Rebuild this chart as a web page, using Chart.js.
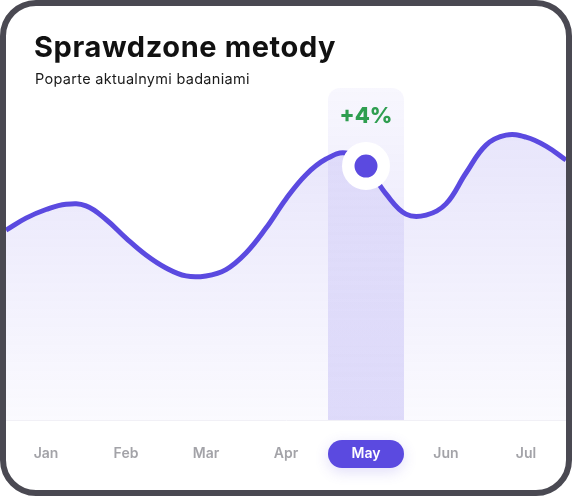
<!DOCTYPE html>
<html>
<head>
<meta charset="utf-8">
<script src="https://cdn.jsdelivr.net/npm/chart.js@4.4.1/dist/chart.umd.min.js"></script>
<style>
  html, body { margin: 0; padding: 0; background: #fff; }
  .card {
    position: relative; width: 572px; height: 496px; box-sizing: border-box;
    border: 6px solid #4a4952; border-radius: 36px; overflow: hidden; background: #fff;
    font-family: Inter, "Noto Sans", sans-serif;
  }
  .card h1 {
    position: absolute; left: 28px; top: 26px; margin: 0; z-index: 2;
    font-size: 29px; line-height: 1; font-weight: 700; color: #111; letter-spacing: 0.6px;
  }
  .card p {
    position: absolute; left: 29px; top: 66px; margin: 0; z-index: 2;
    font-size: 14.5px; line-height: 1; color: #1a1a1a; letter-spacing: 0.3px;
  }
  .chart-box { position: absolute; left: 0; top: 0; width: 560px; height: 484px; }
</style>
</head>
<body>
<div class="card">
  <h1>Sprawdzone metody</h1>
  <p>Poparte aktualnymi badaniami</p>
  <div class="chart-box"><canvas id="trendChart"></canvas></div>
</div>
<script>
// Tick labels
const monthLabels = ['Jan', 'Feb', 'Mar', 'Apr', 'May', 'Jun', 'Jul'];
// Curve every quarter month (x in months, 0 = Jan)
const curveX = [-0.5, -0.25, 0, 0.25, 0.5, 0.75, 1, 1.25, 1.5, 1.75, 2, 2.25, 2.5, 2.75,
                3, 3.25, 3.5, 3.75, 4, 4.25, 4.5, 4.75, 5, 5.25, 5.5, 5.75, 6, 6.25, 6.5];
const curveY = [57.2, 60.8, 63.4, 65.0, 64.5, 60.4, 54.8, 49.7, 45.8, 43.4, 43.4, 45.3, 50.3, 57.8,
                66.6, 73.9, 78.6, 80.4, 76.5, 68.1, 62.0, 61.7, 65.1, 74.4, 82.8, 85.8, 85.2, 82.5, 78.3];
// Highlighted month
const highlightIndex = 4;
const highlightText = '+4%';

const PURPLE = '#5b4ae0';
const GREEN = '#2f9e50';

const points = curveX.map((x, i) => ({ x: x, y: curveY[i] }));

const highlightPlugin = {
  id: 'highlight',
  beforeDraw(chart) {
    // pill behind the highlighted tick label
    const ctx = chart.ctx;
    const x = chart.scales.x.getPixelForTick(highlightIndex);
    const y = chart.chartArea.bottom + 34;
    ctx.save();
    ctx.shadowColor = 'rgba(91,74,224,0.18)';
    ctx.shadowBlur = 14;
    ctx.shadowOffsetY = 4;
    ctx.fillStyle = PURPLE;
    ctx.beginPath();
    ctx.roundRect(x - 38, y - 14, 76, 28, 14);
    ctx.fill();
    ctx.restore();
  },
  beforeDatasetsDraw(chart) {
    // vertical band for the highlighted month
    const { ctx, chartArea } = chart;
    const x = chart.scales.x.getPixelForTick(highlightIndex);
    const g = ctx.createLinearGradient(0, chartArea.top, 0, chartArea.bottom);
    g.addColorStop(0, 'rgba(108,92,231,0.05)');
    g.addColorStop(1, 'rgba(108,92,231,0.20)');
    ctx.save();
    ctx.fillStyle = g;
    ctx.beginPath();
    ctx.roundRect(x - 38, chartArea.top, 76, chartArea.bottom - chartArea.top, [12, 12, 0, 0]);
    ctx.fill();
    ctx.restore();
  },
  afterDatasetsDraw(chart) {
    const meta = chart.getDatasetMeta(0);
    const pt = meta.data[curveX.indexOf(highlightIndex)];
    const ctx = chart.ctx;
    ctx.save();
    ctx.fillStyle = GREEN;
    ctx.font = '800 22px Inter, sans-serif';
    ctx.textAlign = 'center';
    ctx.textBaseline = 'middle';
    ctx.fillText(highlightText, pt.x, pt.y - 50);
    ctx.restore();
  }
};

new Chart(document.getElementById('trendChart'), {
  type: 'line',
  data: {
    labels: monthLabels,
    datasets: [{
      data: points,
      xAxisID: 'xl',
      borderColor: PURPLE,
      borderWidth: 5,
      tension: 0.4,
      fill: 'start',
      backgroundColor: (c) => {
        const area = c.chart.chartArea;
        if (!area) return 'rgba(108,92,231,0.1)';
        const g = c.chart.ctx.createLinearGradient(0, area.top + 40, 0, area.bottom);
        g.addColorStop(0, 'rgba(108,92,231,0.16)');
        g.addColorStop(1, 'rgba(108,92,231,0.03)');
        return g;
      },
      pointRadius: (c) => (c.raw && c.raw.x === highlightIndex ? 17.75 : 0),
      pointBackgroundColor: PURPLE,
      pointBorderColor: '#ffffff',
      pointBorderWidth: 12.5
    }]
  },
  options: {
    responsive: true,
    maintainAspectRatio: false,
    animation: false,
    events: [],
    layout: { padding: { top: 82, left: 0, right: 0, bottom: 0 } },
    plugins: { legend: { display: false }, tooltip: { enabled: false } },
    scales: {
      x: {
        type: 'category',
        offset: true,
        grid: { display: false, drawTicks: false },
        border: { display: true, color: '#f1f0f6', width: 1 },
        ticks: {
          padding: 25,
          font: { family: 'Inter', size: 14, weight: '600' },
          color: (c) => (c.index === highlightIndex ? '#ffffff' : '#a3a3a8')
        },
        afterFit: (axis) => { axis.height = 70; }
      },
      xl: { type: 'linear', display: false, min: -0.5, max: 6.5 },
      y: { display: false, min: 0, max: 100 }
    }
  },
  plugins: [highlightPlugin]
});
</script>
</body>
</html>
